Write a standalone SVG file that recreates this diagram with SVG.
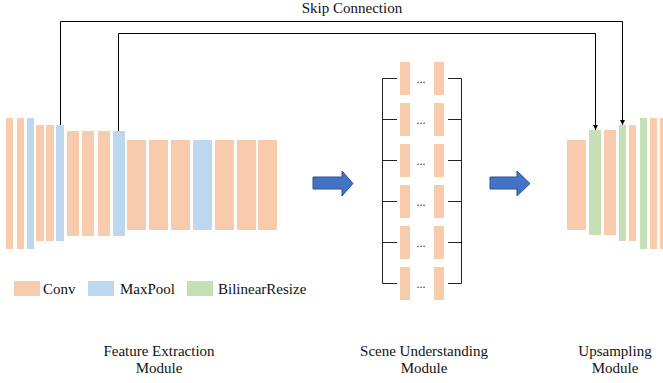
<svg xmlns="http://www.w3.org/2000/svg" width="663" height="383" viewBox="0 0 663 383">
<style>
.conv{fill:#F8CBAD}
.pool{fill:#BDD7EE}
.resize{fill:#C5E0B4}
.lbl{font-family:"Liberation Serif","Times New Roman",serif;font-size:15px;fill:#111}
.mid{text-anchor:middle}
.dots{font-family:"Liberation Serif",serif;font-size:12px;fill:#333;text-anchor:middle}
.br{stroke:#222;stroke-width:1;fill:none}
.skip{stroke:#000;stroke-width:1;fill:none}
.bigarrow{fill:#4472C4;stroke:#2F528F;stroke-width:1}
</style>
<defs>
<marker id="ah" markerUnits="userSpaceOnUse" markerWidth="6" markerHeight="6" refX="5" refY="2.5" orient="auto">
<path d="M0,0 L5,2.5 L0,5 z" fill="#000"/>
</marker>
</defs>
<rect width="663" height="383" fill="#fff"/>

<g id="feature-extraction">
<rect class="conv" x="6" y="118" width="7" height="131"/>
<rect class="conv" x="17" y="118" width="7" height="131"/>
<rect class="pool" x="27" y="118" width="7" height="131"/>
<rect class="conv" x="36" y="125" width="8" height="116"/>
<rect class="conv" x="46" y="125" width="8" height="116"/>
<rect class="pool" x="56" y="125" width="8" height="116"/>
<rect class="conv" x="67" y="131" width="12" height="105"/>
<rect class="conv" x="82" y="131" width="12" height="105"/>
<rect class="conv" x="98" y="131" width="12" height="105"/>
<rect class="pool" x="113" y="131" width="12" height="105"/>
<rect class="conv" x="127" y="140" width="19" height="90"/>
<rect class="conv" x="149" y="140" width="19" height="90"/>
<rect class="conv" x="171" y="140" width="19" height="90"/>
<rect class="pool" x="193" y="140" width="19" height="90"/>
<rect class="conv" x="215" y="140" width="19" height="90"/>
<rect class="conv" x="237" y="140" width="19" height="90"/>
<rect class="conv" x="258" y="140" width="19" height="90"/>
</g>

<g id="scene-understanding">
<path class="br" d="M397,78.5 H382.5 V283.5 H397 M382.5,119.5 H397 M382.5,160.5 H397 M382.5,201.5 H397 M382.5,242.5 H397"/>
<path class="br" d="M448,78.5 H461.5 V283.5 H448 M461.5,119.5 H448 M461.5,160.5 H448 M461.5,201.5 H448 M461.5,242.5 H448"/>
<rect class="conv" x="400" y="62" width="10" height="33"/><rect class="conv" x="434" y="62" width="10" height="33"/><text class="dots" x="421" y="83">...</text>
<rect class="conv" x="400" y="103" width="10" height="33"/><rect class="conv" x="434" y="103" width="10" height="33"/><text class="dots" x="421" y="124">...</text>
<rect class="conv" x="400" y="144" width="10" height="33"/><rect class="conv" x="434" y="144" width="10" height="33"/><text class="dots" x="421" y="165">...</text>
<rect class="conv" x="400" y="185" width="10" height="33"/><rect class="conv" x="434" y="185" width="10" height="33"/><text class="dots" x="421" y="206">...</text>
<rect class="conv" x="400" y="226" width="10" height="33"/><rect class="conv" x="434" y="226" width="10" height="33"/><text class="dots" x="421" y="247">...</text>
<rect class="conv" x="400" y="267" width="10" height="33"/><rect class="conv" x="434" y="267" width="10" height="33"/><text class="dots" x="421" y="288">...</text>
</g>

<g id="upsampling">
<rect class="conv" x="567" y="140" width="19" height="90"/>
<rect class="resize" x="589" y="130" width="12" height="105"/>
<rect class="conv" x="604" y="130" width="12" height="105"/>
<rect class="resize" x="619" y="125" width="7" height="116"/>
<rect class="conv" x="629" y="125" width="7" height="116"/>
<rect class="resize" x="640" y="118" width="7" height="131"/>
<rect class="conv" x="650" y="118" width="7" height="131"/>
<rect class="conv" x="660" y="118" width="7" height="131"/>
</g>

<g id="connectors">
<path class="skip" d="M60.5,125 V21.5 H622.5 V125" marker-end="url(#ah)"/>
<path class="skip" d="M118.5,131 V33.5 H595.5 V130" marker-end="url(#ah)"/>
<polygon class="bigarrow" points="313,177 342,177 342,171 353,183.5 342,196 342,189 313,189"/>
<polygon class="bigarrow" points="490,177 517,177 517,171 530,183.5 517,196 517,189 490,189"/>
</g>

<g id="skip-label"><text class="lbl mid" x="352" y="13">Skip Connection</text></g>

<g id="legend">
<rect class="conv" x="14" y="281" width="26" height="15"/><text class="lbl" x="43" y="294">Conv</text>
<rect class="pool" x="88" y="281" width="26" height="15"/><text class="lbl" x="120" y="294">MaxPool</text>
<rect class="resize" x="187" y="281" width="26" height="15"/><text class="lbl" x="218" y="294">BilinearResize</text>
</g>

<g id="labels">
<text class="lbl mid" x="159" y="356">Feature Extraction</text>
<text class="lbl mid" x="159" y="373">Module</text>
<text class="lbl mid" x="424" y="356">Scene Understanding</text>
<text class="lbl mid" x="424" y="373">Module</text>
<text class="lbl mid" x="615" y="356">Upsampling</text>
<text class="lbl mid" x="615" y="373">Module</text>
</g>
</svg>
